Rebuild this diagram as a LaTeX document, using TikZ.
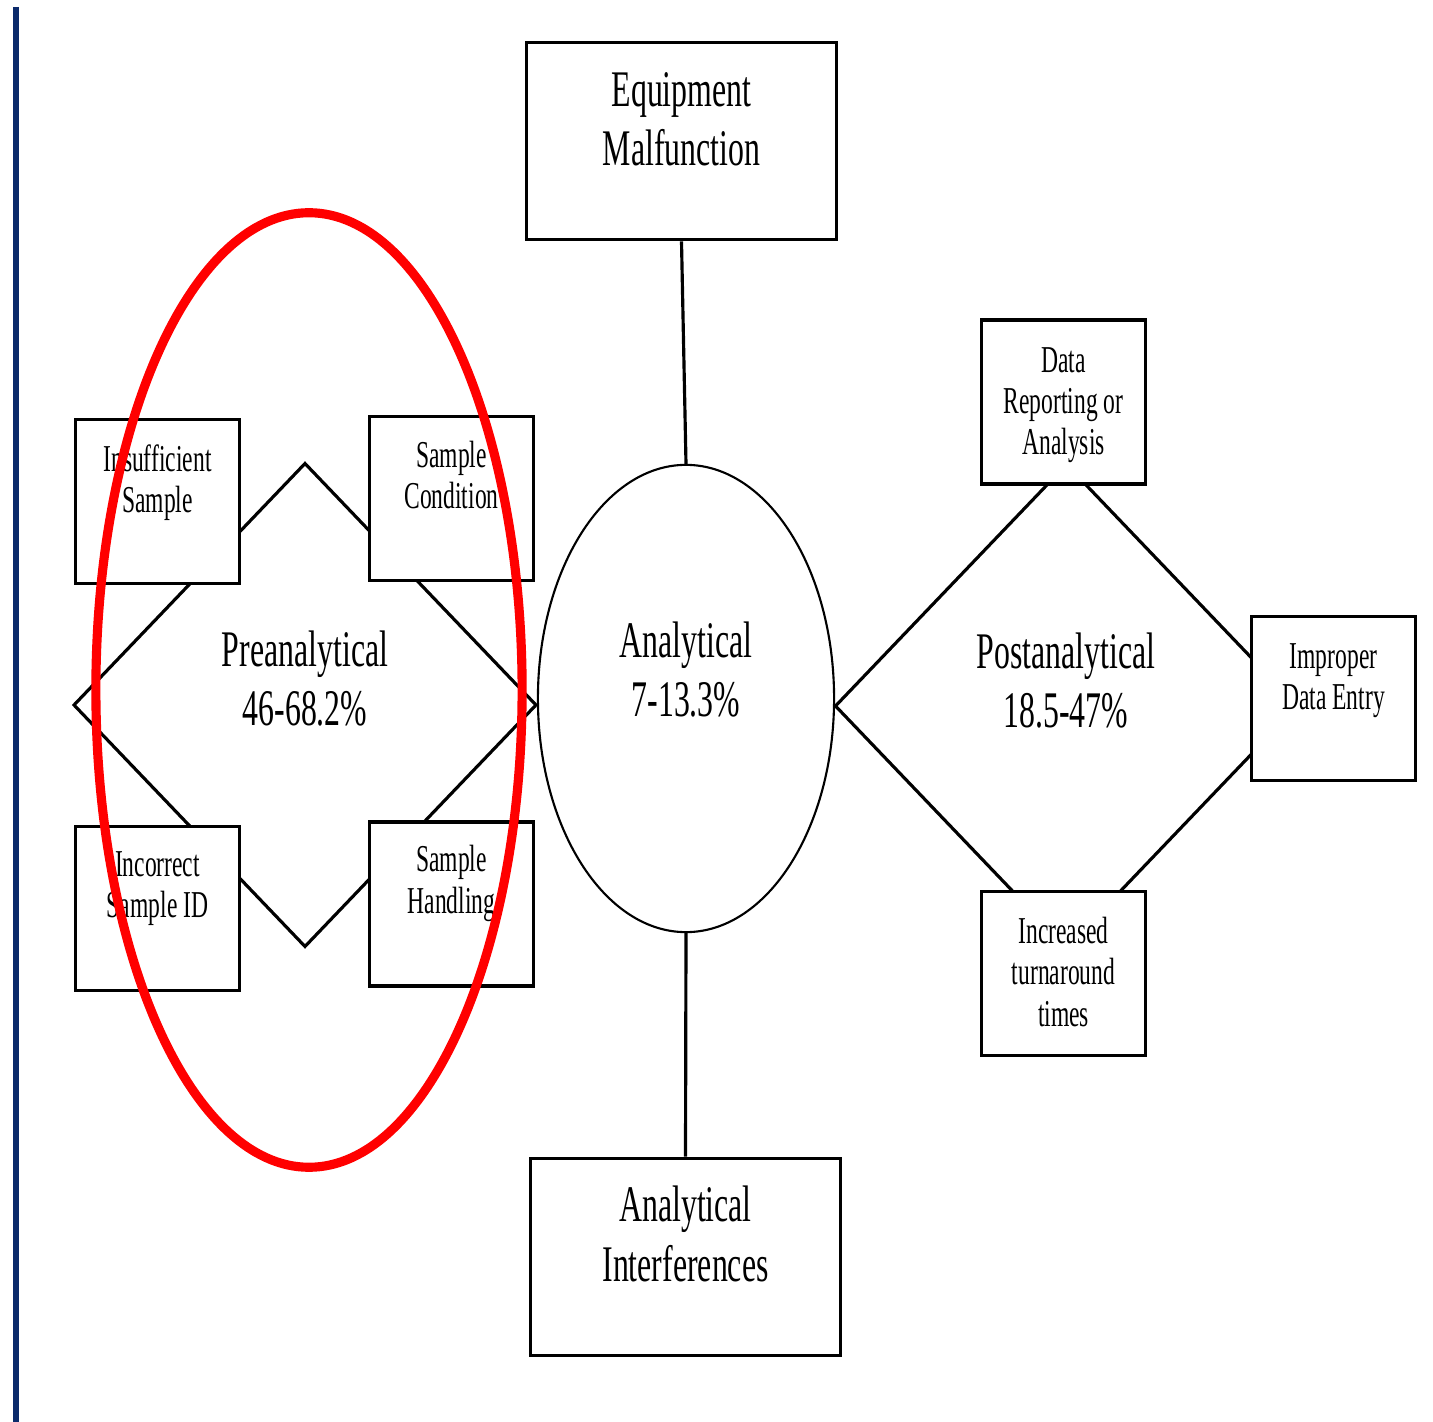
\documentclass[tikz,border=0pt]{standalone}
\usepackage{fontspec}
\setmainfont{Liberation Serif}[FakeStretch=0.62]
\usetikzlibrary{shapes.geometric}
\definecolor{navy}{HTML}{0B2A6B}
\definecolor{hilite}{HTML}{FF0000}
\begin{document}
\begin{tikzpicture}[x=0.01cm, y=-0.01cm,
  box/.style={draw, fill=white, line width=1.05pt, inner sep=0pt},
  bigbox/.style={box, minimum width=3.10cm, minimum height=1.97cm},
  smallbox/.style={box, minimum width=1.64cm, minimum height=1.64cm},
  phase/.style={draw, diamond, line width=0.9pt, inner sep=0pt, minimum width=4.63cm, minimum height=4.84cm},
  conn/.style={line width=0.9pt},
  bigtxt/.style={anchor=base, align=center, inner sep=0pt, font=\fontsize{14.6}{16.8}\selectfont},
  smalltxt/.style={anchor=base, align=center, inner sep=0pt, font=\fontsize{10.8}{11.7}\selectfont}]

% page frame and left rule
\useasboundingbox[fill=white] (0,0) rectangle (1433,1422);
\draw[navy, line width=1.7pt] (16,7) -- (16,1422);

% phase diamonds
\node[phase] (pre) at (305,705) {};
\node[phase] (post) at (1066.5,706) {};

% analytical phase
\node[draw, ellipse, fill=white, line width=0.6pt, inner sep=0pt,
      minimum width=2.96cm, minimum height=4.67cm] (ana) at (686,698.5) {};

% analytical causes
\node[bigbox] (eq) at (681.5,141) {};
\node[bigbox] (ai) at (685.5,1257) {};
\draw[conn] (eq.south) -- (ana.north);
\draw[conn] (ana.south) -- (ai.north);

% preanalytical causes
\node[smallbox] (ins) at (157.5,501.5) {};
\node[smallbox] (cond) at (451.5,498.5) {};
\node[smallbox] (sid) at (157.5,908.5) {};
\node[smallbox] (hand) at (451.5,904) {};

% postanalytical causes
\node[smallbox] (rep) at (1063.5,402) {};
\node[smallbox] (entry) at (1333.5,698.5) {};
\node[smallbox] (tat) at (1063.5,973.5) {};

% labels (anchored at the baseline of their last line)
\node[bigtxt] (eqt) at (681.5,166) {Equipment\\Malfunction};
\node[bigtxt] (ait) at (685.5,1281) {Analytical\\Interferences};
\node[bigtxt] (pret) at (305,726) {Preanalytical\\46-68.2\%};
\node[bigtxt] (anat) at (686,717) {Analytical\\7-13.3\%};
\node[bigtxt] (postt) at (1066,728) {Postanalytical\\18.5-47\%};

\node[smalltxt] (inst) at (157.5,513) {Insufficient\\Sample};
\node[smalltxt] (condt) at (451.5,509) {Sample\\Condition};
\node[smalltxt] (sidt) at (157.5,918) {Incorrect\\Sample ID};
\node[smalltxt] (handt) at (451.5,913) {Sample\\Handling};
\node[smalltxt] (rept) at (1063.5,455) {Data\\Reporting or\\Analysis};
\node[smalltxt] (entryt) at (1333.5,710) {Improper\\Data Entry};
\node[smalltxt] (tatt) at (1063.5,1026) {Increased\\turnaround\\times};

% highlight around the preanalytical phase
\node[draw=hilite, ellipse, line width=2.6pt, inner sep=0pt,
      minimum width=4.26cm, minimum height=9.54cm] (focus) at (309,690) {};
\end{tikzpicture}
\end{document}
